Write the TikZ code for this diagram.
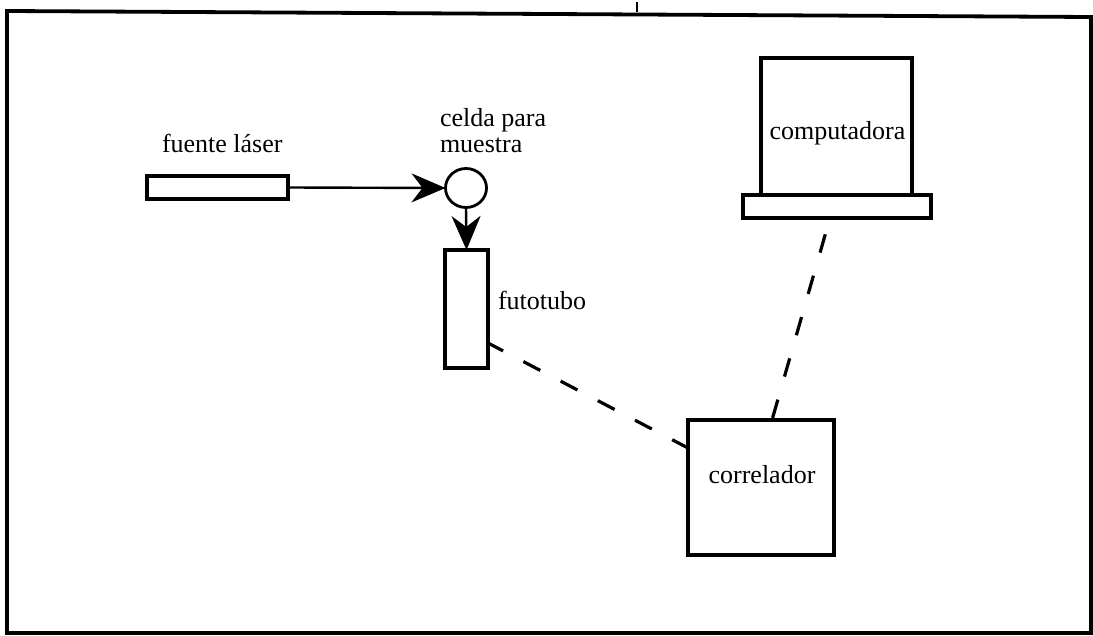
\documentclass[tikz,border=0pt]{standalone}
\usepackage{fontspec}
\setmainfont{Liberation Serif}
\usetikzlibrary{arrows.meta,calc,shapes.geometric}

\tikzset{
  unit/.style={draw, line width=3.4pt, rectangle, inner sep=0pt, outer sep=0pt},
  cellshape/.style={draw, line width=2.8pt, ellipse, inner sep=0pt, outer sep=0pt},
  caption/.style={inner sep=0pt, outer sep=0pt, font=\fontsize{26}{26}\selectfont},
  beam/.style={line width=2.4pt, -{Stealth[length=34pt, width=29pt, inset=11pt]}},
  signal/.style={line width=3.2pt, line cap=butt},
  frame/.style={line width=3.8pt, line join=miter}
}

\begin{document}
\begin{tikzpicture}[x=1pt, y=-1pt]
  \useasboundingbox (0,0) rectangle (1093,636);

  % outer border and small mark on its top edge
  \draw[frame] (7,11) -- (1091,17) -- (1091,633) -- (7,633) -- cycle;
  \draw[line width=2pt] (637,2) -- (637,12);

  % optical path
  \node[unit, minimum width=141pt, minimum height=23pt] (laser) at (217.5,187.5) {};
  \node[cellshape, minimum width=41pt, minimum height=39pt] (cell) at (466,188) {};
  \node[unit, minimum width=43pt, minimum height=118pt] (tube) at (466.5,309) {};

  % electronics
  \node[unit, minimum width=146pt, minimum height=135pt] (corr) at (761,487.5) {};
  \node[unit, minimum width=151pt, minimum height=137pt] (monitor) at (836.5,126.5) {};
  \node[unit, minimum width=188pt, minimum height=23pt] (base) at (837,206.5) {};

  % labels
  \node[caption, anchor=base west] (laserlbl) at (162,153) {fuente láser};
  \node[caption, anchor=base west] (celllblA) at (440,127) {celda para};
  \node[caption, anchor=base west] (celllblB) at (440,153) {muestra};
  \node[caption, anchor=base west] (tubelbl) at (498,310) {futotubo};
  \node[caption, anchor=base] (monitorlbl) at (837.5,140) {computadora};
  \node[caption, anchor=base] (corrlbl) at (762,483) {correlador};

  % light beam
  \draw[beam] (laser.east) -- (cell.west);
  \draw[beam] (cell.south) -- (tube.north);

  % signal cables
  \draw[signal, dash pattern=on 19pt off 23pt, dash phase=2pt]
    ($(tube.south east)+(0,-25)$) -- ($(corr.north west)+(0,28)$);
  \draw[signal, dash pattern=on 19pt off 24pt, dash phase=26pt]
    ($(base.south)+(-7,0)$) -- ($(corr.north)+(11,0)$);
\end{tikzpicture}
\end{document}
